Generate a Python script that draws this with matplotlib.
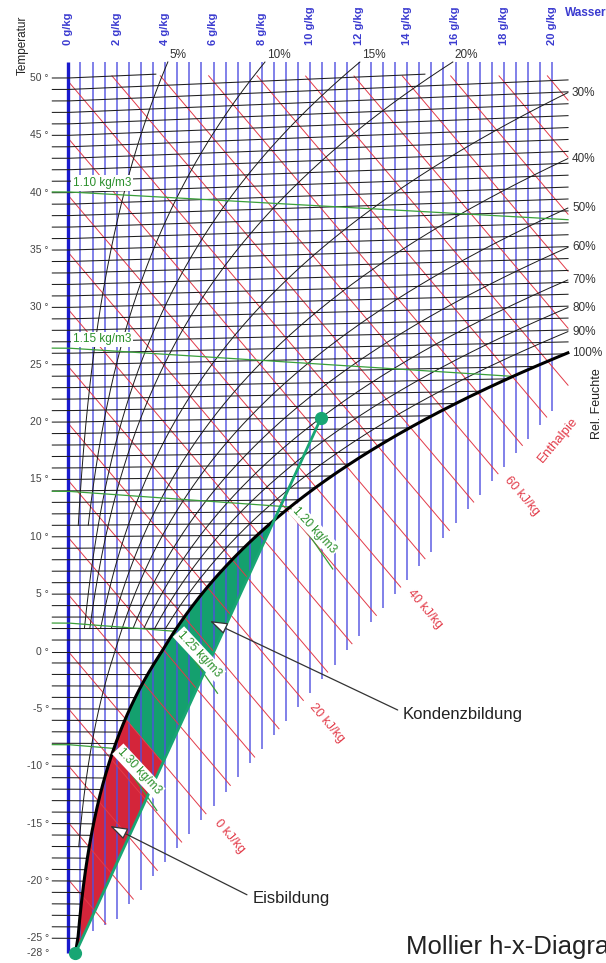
import numpy as np
import matplotlib
matplotlib.use("Agg")
import matplotlib.pyplot as plt

plt.rcParams['font.family'] = ['Liberation Sans', 'DejaVu Sans']

# ---------------- data ----------------
PRESSURE_KPA = 98.9
TEMP_TICKS = [50, 45, 40, 35, 30, 25, 20, 15, 10, 5, 0, -5, -10, -15, -20, -25, -28]
ISOTHERMS = list(range(-25, 51))                 # degC, one line per kelvin
MOISTURE_LABELS = [0, 2, 4, 6, 8, 10, 12, 14, 16, 18, 20]   # g/kg
RH_LEVELS = [5, 10, 15, 20, 30, 40, 50, 60, 70, 80, 90, 100]  # %
RH_LOWEST_T = [11, 11, 2, 2, 2, 2, -17, 2, 2, 2, 2, -28]      # degC where each curve stops
ENTHALPY_LINES = list(range(-20, 105, 5))        # kJ/kg
ENTHALPY_LABELS = [0, 20, 40, 60]
DENSITY_LEVELS = [1.10, 1.15, 1.20, 1.25, 1.30]  # kg/m3
DENSITY_LABEL_LEFT = [True, True, False, False, False]
PROCESS_START_X = 10.45     # g/kg
PROCESS_START_T = 20.0      # degC
PROCESS_END_T = -28.0       # degC (on saturation)

# ---------------- layout constants ----------------
W, H = 606, 963
X0_PX, PX_PER_G = 68.3, 24.2
Y40_PX, PX_PER_K = 192.7, 11.47
X_MAX = 20.65
Y_TOP_GRID = 51.4
Y_TOP_ISO = 50.34
Y_TOP_ENTH = 50.2
X_TICK_START = -0.66
SQUEEZE = 0.437

BLUE = '#5050e0'
BLUE_DARK = '#1a1acc'
RED = '#e23a48'
GREEN_LINE = '#3a9f3a'
GREEN_TXT = '#2a8f2a'
GREEN_FILL = '#14a06e'
RED_FILL = '#d4253a'
PROC = '#18a673'


def fwd(y):
    y = np.asarray(y, dtype=float)
    return np.where(y >= -25, y, -25 + (y + 25) * SQUEEZE)


def inv(y):
    y = np.asarray(y, dtype=float)
    return np.where(y >= -25, y, -25 + (y + 25) / SQUEEZE)


def p_sat(t):
    t = np.asarray(t, dtype=float)
    water = 0.61094 * np.exp(17.625 * t / (t + 243.04))
    ice = 0.61115 * np.exp(22.452 * t / (272.55 + t))
    return np.where(t >= 0, water, ice)


def x_of(phi, t):
    pv = phi * p_sat(t)
    return 622.0 * pv / (PRESSURE_KPA - pv)


def skew(t, x):
    return t * (1 + 0.001849 * np.maximum(x, 0))


def enth(x, Y):
    return 1.006 * Y + 2.501 * x


def bottom_bound(x):
    return np.maximum(-28.2 + 2.46 * x, -25.5 + 1.1 * x)


x_left = -X0_PX / PX_PER_G
x_right = (W - X0_PX) / PX_PER_G
ys_top = 40 + Y40_PX / PX_PER_K
ys_bot = 40 - (H - Y40_PX) / PX_PER_K

fig = plt.figure(figsize=(W / 100, H / 100), dpi=100)
ax = fig.add_axes([0, 0, 1, 1])
ax.set_yscale('function', functions=(fwd, inv))
ax.set_xlim(x_left, x_right)
ax.set_ylim(float(inv(ys_bot)), ys_top)
ax.axis('off')

# saturation curve samples
sat_t = np.linspace(PROCESS_END_T, 30, 6000)
sat_x = x_of(1.0, sat_t)
sat_Y = skew(sat_t, sat_x)

# ---------------- moisture grid (blue verticals) ----------------
for xv in np.arange(0.5, 20.01, 0.5):
    ax.plot([xv, xv], [float(bottom_bound(xv)), Y_TOP_GRID], color=BLUE, lw=1.2,
            alpha=0.85, zorder=2, solid_capstyle='butt')
xB = float(x_of(1.0, PROCESS_END_T))
YB = float(skew(PROCESS_END_T, xB))
ax.plot([0, 0], [YB, Y_TOP_GRID], color=BLUE_DARK, lw=2.4, zorder=3, solid_capstyle='butt')

# ---------------- enthalpy lines ----------------
ex = np.linspace(0, X_MAX, 1500)
ends = {}
for h in ENTHALPY_LINES:
    Y = (h - 2.501 * ex) / 1.006
    bad = (Y > Y_TOP_ENTH) | (Y < bottom_bound(ex))
    if bad.all():
        continue
    Yp = np.where(bad, np.nan, Y)
    ax.plot(ex, Yp, color=RED, lw=0.7, zorder=2.2)
    idx = np.where(~bad)[0]
    ends[h] = (ex[idx[-1]], Y[idx[-1]])

for h in ENTHALPY_LABELS:
    xe, Ye = ends[h]
    ax.annotate(f"{h} kJ/kg", xy=(xe, Ye), xytext=(17, -16), textcoords='offset points',
                ha='center', va='center', rotation=-49.7, color=RED, fontsize=9)

# ---------------- isotherms ----------------
for t in ISOTHERMS:
    xs = min(float(x_of(1.0, t)), X_MAX)
    xx = np.linspace(X_TICK_START, xs, 300)
    YY = skew(t, xx)
    YY = np.where(YY > Y_TOP_ISO, np.nan, YY)
    ax.plot(xx, YY, color='#1e1e1e', lw=0.75, zorder=3)

for t in TEMP_TICKS:
    ax.text(49 / W, t, f"{t} \u00b0", transform=ax.get_yaxis_transform(), ha='right',
            va='center', fontsize=7.5, color='#444444')

# ---------------- relative humidity curves ----------------
for phi, tlow in zip(RH_LEVELS, RH_LOWEST_T):
    tt = np.arange(tlow, 60, 0.01)
    xx = x_of(phi / 100, tt)
    YY = skew(tt, xx)
    ok = (YY <= Y_TOP_GRID) & (xx <= X_MAX)
    n = np.argmin(ok) if not ok.all() else len(ok)
    xx, YY = xx[:n], YY[:n]
    if phi == 100:
        ax.plot(xx, YY, color='black', lw=2.2, zorder=4)
    else:
        ax.plot(xx, YY, color='#1a1a1a', lw=0.7, zorder=3.2)
    if xx[-1] < X_MAX - 0.05:
        ax.annotate(f"{phi}%", xy=(xx[-1], YY[-1]), xytext=(1.5, 0.5), textcoords='offset points',
                    ha='left', va='bottom', fontsize=8.5, color='#333333')
    else:
        ax.annotate(f"{phi}%", xy=(xx[-1], YY[-1]), xytext=(3, 0), textcoords='offset points',
                    ha='left', va='center', fontsize=8.5, color='#333333')

# ---------------- fog / ice fill & process line ----------------
YA = float(skew(PROCESS_START_T, PROCESS_START_X))
A = np.array([PROCESS_START_X, float(fwd(YA))])
B = np.array([xB, float(fwd(YB))])
sat_Ys = fwd(sat_Y)
d = A - B
side = d[0] * (sat_Ys - B[1]) - d[1] * (sat_x - B[0])
sgn = np.sign(side[5:])
ic = 5 + np.where(np.diff(sgn) != 0)[0][0] + 1
fr = side[ic - 1] / (side[ic - 1] - side[ic])
Cx = sat_x[ic - 1] + fr * (sat_x[ic] - sat_x[ic - 1])
CYs = sat_Ys[ic - 1] + fr * (sat_Ys[ic] - sat_Ys[ic - 1])

h_sat = enth(sat_x, sat_Y)
i0 = np.where(h_sat >= 0)[0][0]

s = np.linspace(0, 1, 4000)
abx = B[0] + s * d[0]
aby = inv(B[1] + s * d[1])
j0 = np.where(enth(abx, aby) >= 0)[0][0]
P0x, P0Y = abx[j0], float(aby[j0])
CY = float(inv(CYs))

gx = np.concatenate([sat_x[i0:ic], [Cx, P0x]])
gy = np.concatenate([sat_Y[i0:ic], [CY, P0Y]])
ax.fill(gx, gy, color=GREEN_FILL, lw=0, zorder=1)
rx = np.concatenate([[xB], sat_x[:i0 + 1], [P0x]])
ry = np.concatenate([[YB], sat_Y[:i0 + 1], [P0Y]])
ax.fill(rx, ry, color=RED_FILL, lw=0, zorder=1)

ax.plot([PROCESS_START_X, xB], [YA, YB], color=PROC, lw=2.0, zorder=5)
ax.plot([PROCESS_START_X, xB], [YA, YB], 'o', color=PROC, ms=8.5, zorder=6)

# ---------------- density lines ----------------
R_D = 0.28705
dx_grid = np.linspace(X_TICK_START, X_MAX, 1200)
for rho, left in zip(DENSITY_LEVELS, DENSITY_LABEL_LEFT):
    xk = np.maximum(dx_grid, 0) / 1000
    T = PRESSURE_KPA * (1 + xk) / (R_D * rho * (1 + 1.608 * xk)) - 273.15
    Y = skew(T, dx_grid)
    ysat = np.interp(dx_grid, sat_x, sat_Y, left=-99)
    ok = Y >= ysat
    n = np.argmin(ok) if not ok.all() else len(ok)
    ax.plot(dx_grid[:n], Y[:n], color=GREEN_LINE, lw=0.9, zorder=3.5)
    if left:
        ax.annotate(f"{rho:.2f} kg/m3", xy=(0.19, Y[np.searchsorted(dx_grid, 0.19)]),
                    xytext=(0, 6.5), textcoords='offset points', ha='left', va='center',
                    fontsize=8.5, color=GREEN_TXT, zorder=8,
                    bbox=dict(boxstyle='square,pad=0.15', fc='white', ec='none'))
    else:
        cx, cy = dx_grid[n - 1], Y[n - 1]
        ax.plot([cx, cx + 1.777], [cy, cy - 5.406], color=GREEN_LINE, lw=0.9, zorder=3.5)
        ax.annotate(f"{rho:.2f} kg/m3", xy=(cx, cy), xytext=(18, -16.5),
                    textcoords='offset points', ha='center', va='center', rotation=-47,
                    fontsize=8.5, color=GREEN_TXT, zorder=8,
                    bbox=dict(boxstyle='square,pad=0.15', fc='white', ec='none'))

# ---------------- annotations ----------------
arrow = dict(arrowstyle='-|>,head_length=0.9,head_width=0.3', fc='white', ec='#333333',
             lw=0.9, mutation_scale=12, shrinkA=2, shrinkB=0, relpos=(0, 0.6))
ax.annotate("Kondenzbildung", xy=(5.855, 2.66), xytext=(13.83, -5.45),
            ha='left', va='center', fontsize=12, color='#222222', arrowprops=arrow, zorder=9)
ax.annotate("Eisbildung", xy=(1.727, -15.21), xytext=(7.6, -21.57),
            ha='left', va='center', fontsize=12, color='#222222', arrowprops=arrow, zorder=9)

# ---------------- outer texts ----------------
for g in MOISTURE_LABELS:
    ax.text(g, 1 - 45 / H, f"{g} g/kg", transform=ax.get_xaxis_transform(), rotation=90,
            ha='center', va='bottom', fontsize=8, fontweight='bold', color='#3b3bd0')
fig.text(565 / W, 1 - 13 / H, "Wasser", ha='left', va='center', fontsize=8.5,
         fontweight='bold', color='#3b3bd0')
fig.text(23 / W, 1 - 45 / H, "Temperatur", rotation=90, ha='center', va='center',
         fontsize=8.5, color='#222222')
fig.text(597 / W, 1 - 404 / H, "Rel. Feuchte", rotation=90, ha='center', va='center',
         fontsize=9, color='#222222')
fig.text(558 / W, 1 - 440 / H, "Enthalpie", rotation=50, ha='center', va='center',
         fontsize=9.5, color=RED)
fig.text(406 / W, 1 - 947 / H, "Mollier h-x-Diagramm", ha='left', va='center',
         fontsize=18.5, color='#222222')

fig.savefig("out.png", dpi=100)
